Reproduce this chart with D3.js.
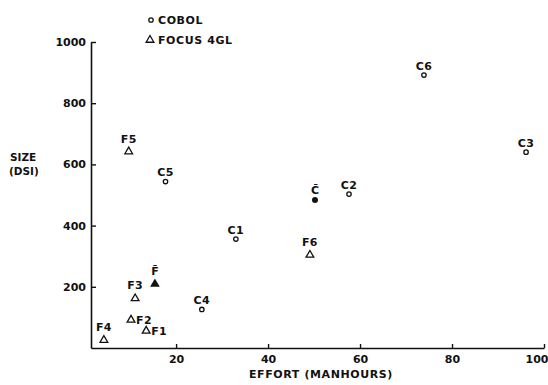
<!DOCTYPE html>
<html>
<head>
<meta charset="utf-8">
<script src="https://cdn.jsdelivr.net/npm/d3@7"></script>
<style>
  body { margin: 0; background: #fff; }
  text { font-family: "DejaVu Sans", sans-serif; font-weight: bold; fill: #111; }
</style>
</head>
<body>
<div id="chart-area"></div>
<script>
// Data: effort (manhours) vs size (DSI)
let cobolNames = ["C1", "C2", "C3", "C4", "C5", "C6"];
let cobolEffort = [33, 57.6, 96.1, 25.6, 17.7, 73.9];
let cobolSize = [356, 503, 640, 126, 544, 892];

let focusNames = ["F1", "F2", "F3", "F4", "F5", "F6"];
let focusEffort = [13.5, 10.2, 11.1, 4.3, 9.7, 49.1];
let focusSize = [56, 92, 162, 26, 642, 304];

// group means (filled markers)
let meanNames = ["C\u0304", "F\u0304"];
let meanEffort = [50.2, 15.4];
let meanSize = [484, 209];

let xTicks = [20, 40, 60, 80, 100];
let yTicks = [200, 400, 600, 800, 1000];

// labels that sit right of the marker instead of above it
let sideLabels = ["F1", "F2"];

let width = 548, height = 385;
let svg = d3.select("#chart-area").append("svg")
    .attr("width", width)
    .attr("height", height);

svg.append("rect").attr("width", width).attr("height", height).attr("fill", "#fff");

let x = d3.scaleLinear().domain([1.5, 100]).range([91, 544]);
let y = d3.scaleLinear().domain([0, 1000]).range([348, 42]);

// axes
let xAxis = d3.axisBottom(x).tickValues(xTicks).tickFormat(d3.format("d"))
    .tickSizeInner(-4).tickSizeOuter(0).tickPadding(7);
let yAxis = d3.axisLeft(y).tickValues(yTicks).tickFormat(d3.format("d"))
    .tickSizeInner(-5).tickSizeOuter(0).tickPadding(5);

let gx = svg.append("g").attr("transform", "translate(0," + y(0) + ")").call(xAxis);
let gy = svg.append("g").attr("transform", "translate(" + x(1.5) + ",0)").call(yAxis);

[gx, gy].forEach(g => {
  g.select(".domain").attr("stroke", "#111").attr("stroke-width", 1.6);
  g.selectAll(".tick line").attr("stroke", "#111").attr("stroke-width", 1.4);
  g.selectAll(".tick text")
    .attr("fill", "#111")
    .style("font-family", "'DejaVu Sans', sans-serif")
    .style("font-weight", "bold")
    .style("font-size", "11px");
});
// keep the last x label inside the page
gx.selectAll(".tick text").filter(d => d === 100).attr("text-anchor", "end").attr("dx", 4);

// axis titles
svg.append("text").attr("x", 321).attr("y", 378)
    .attr("text-anchor", "middle").style("font-size", "11px").style("letter-spacing", "0.6px")
    .text("EFFORT (MANHOURS)");
svg.append("text").attr("x", 10).attr("y", 161).style("font-size", "10.5px").text("SIZE");
svg.append("text").attr("x", 9).attr("y", 174.5).style("font-size", "10.5px").text("(DSI)");

let tri = d3.symbol().type(d3.symbolTriangle).size(26);
let triBig = d3.symbol().type(d3.symbolTriangle).size(40);

// COBOL points
let cobol = cobolNames.map((n, i) => ({name: n, x: cobolEffort[i], y: cobolSize[i]}));
svg.selectAll(".cobol").data(cobol).enter().append("circle")
    .attr("class", "cobol")
    .attr("cx", d => x(d.x)).attr("cy", d => y(d.y)).attr("r", 2.2)
    .attr("fill", "#fff").attr("stroke", "#111").attr("stroke-width", 1.3);
svg.selectAll(".cobol-label").data(cobol).enter().append("text")
    .attr("x", d => x(d.x)).attr("y", d => y(d.y) - 5.5)
    .attr("text-anchor", "middle").style("font-size", "11px").style("letter-spacing", "0.4px")
    .text(d => d.name);

// FOCUS points
let focus = focusNames.map((n, i) => ({name: n, x: focusEffort[i], y: focusSize[i]}));
svg.selectAll(".focus").data(focus).enter().append("path")
    .attr("class", "focus")
    .attr("d", tri)
    .attr("transform", d => "translate(" + x(d.x) + "," + y(d.y) + ")")
    .attr("fill", "#fff").attr("stroke", "#111").attr("stroke-width", 1.3);
svg.selectAll(".focus-label").data(focus).enter().append("text")
    .attr("x", d => sideLabels.includes(d.name) ? x(d.x) + 5 : x(d.x))
    .attr("y", d => sideLabels.includes(d.name) ? y(d.y) + 4 : y(d.y) - 9)
    .attr("text-anchor", d => sideLabels.includes(d.name) ? "start" : "middle")
    .style("font-size", "11px").style("letter-spacing", "0.4px")
    .text(d => d.name);

// means
svg.append("circle")
    .attr("cx", x(meanEffort[0])).attr("cy", y(meanSize[0])).attr("r", 3)
    .attr("fill", "#111");
svg.append("path").attr("d", triBig)
    .attr("transform", "translate(" + x(meanEffort[1]) + "," + y(meanSize[1]) + ")")
    .attr("fill", "#111");
svg.append("text").attr("x", x(meanEffort[0])).attr("y", y(meanSize[0]) - 6)
    .attr("text-anchor", "middle").style("font-size", "11px").text(meanNames[0]);
svg.append("text").attr("x", x(meanEffort[1])).attr("y", y(meanSize[1]) - 9)
    .attr("text-anchor", "middle").style("font-size", "11px").text(meanNames[1]);

// legend
svg.append("circle").attr("cx", 151).attr("cy", 20).attr("r", 2.2)
    .attr("fill", "#fff").attr("stroke", "#111").attr("stroke-width", 1.3);
svg.append("text").attr("x", 158).attr("y", 23.5)
    .style("font-size", "11px").style("letter-spacing", "0.6px").text("COBOL");
svg.append("path").attr("d", tri).attr("transform", "translate(150,40)")
    .attr("fill", "#fff").attr("stroke", "#111").attr("stroke-width", 1.3);
svg.append("text").attr("x", 158).attr("y", 43.5)
    .style("font-size", "11px").style("letter-spacing", "0.6px").text("FOCUS 4GL");
</script>
</body>
</html>
